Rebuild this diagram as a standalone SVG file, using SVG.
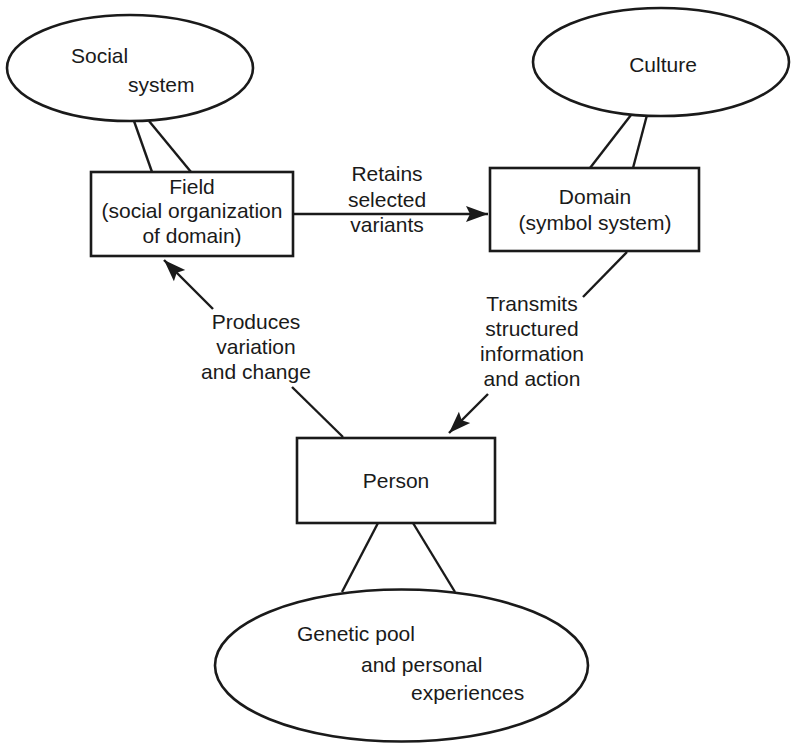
<svg xmlns="http://www.w3.org/2000/svg" width="791" height="743" viewBox="0 0 791 743">
  <defs>
    <style>
      .shape { fill: #ffffff; stroke: #1a1a1a; stroke-width: 2.6; }
      .link { fill: none; stroke: #1a1a1a; stroke-width: 2.4; }
      .label { font-family: "Liberation Sans", Arial, Helvetica, sans-serif; font-size: 21px; fill: #1a1a1a; }
      .mid { text-anchor: middle; }
    </style>
    <marker id="arrow" markerUnits="userSpaceOnUse" markerWidth="24" markerHeight="18" viewBox="0 0 24 18" refX="22" refY="9" orient="auto">
      <path d="M0,1 L22,9 L0,17 L4,9 Z" fill="#1a1a1a"/>
    </marker>
  </defs>

  <rect width="791" height="743" fill="#ffffff"/>

  <g id="connectors">
    <!-- ties between each box and its surrounding context -->
    <line class="link" x1="134" y1="121" x2="152" y2="172"/>
    <line class="link" x1="149" y1="121" x2="191" y2="172"/>
    <line class="link" x1="631" y1="115" x2="590" y2="168"/>
    <line class="link" x1="647" y1="115" x2="633" y2="168"/>
    <line class="link" x1="378" y1="523" x2="342" y2="592"/>
    <line class="link" x1="413" y1="523" x2="455" y2="592"/>
    <!-- field to domain -->
    <line class="link" x1="293" y1="214" x2="488" y2="214" marker-end="url(#arrow)"/>
    <!-- person to field, broken around its label -->
    <line class="link" x1="343" y1="437" x2="292" y2="387"/>
    <line class="link" x1="213" y1="309" x2="164" y2="260" marker-end="url(#arrow)"/>
    <!-- domain to person, broken around its label -->
    <line class="link" x1="627" y1="252" x2="583" y2="297"/>
    <line class="link" x1="488" y1="394" x2="449" y2="433" marker-end="url(#arrow)"/>
  </g>

  <g id="social-system">
    <ellipse class="shape" cx="130" cy="68" rx="123" ry="53"/>
    <text class="label" x="71" y="63">Social</text>
    <text class="label" x="128" y="92">system</text>
  </g>

  <g id="culture">
    <ellipse class="shape" cx="661" cy="62" rx="128" ry="54"/>
    <text class="label mid" x="663" y="72">Culture</text>
  </g>

  <g id="field">
    <rect class="shape" x="91" y="172" width="202" height="84"/>
    <text class="label mid" x="192" y="194">Field</text>
    <text class="label mid" x="192" y="218">(social organization</text>
    <text class="label mid" x="192" y="243">of domain)</text>
  </g>

  <g id="domain">
    <rect class="shape" x="490" y="168" width="209" height="83"/>
    <text class="label mid" x="595" y="204">Domain</text>
    <text class="label mid" x="595" y="230">(symbol system)</text>
  </g>

  <g id="person">
    <rect class="shape" x="297" y="438" width="198" height="85"/>
    <text class="label mid" x="396" y="488">Person</text>
  </g>

  <g id="genetic-pool">
    <ellipse class="shape" cx="401.5" cy="665.5" rx="186.5" ry="76"/>
    <text class="label" x="297" y="641">Genetic pool</text>
    <text class="label" x="361" y="672">and personal</text>
    <text class="label" x="411" y="700">experiences</text>
  </g>

  <g id="labels">
    <text class="label mid" x="387" y="181">Retains</text>
    <text class="label mid" x="387" y="207">selected</text>
    <text class="label mid" x="387" y="232">variants</text>

    <text class="label mid" x="256" y="329">Produces</text>
    <text class="label mid" x="256" y="354">variation</text>
    <text class="label mid" x="256" y="379">and change</text>

    <text class="label mid" x="532" y="311">Transmits</text>
    <text class="label mid" x="532" y="336">structured</text>
    <text class="label mid" x="532" y="361">information</text>
    <text class="label mid" x="532" y="386">and action</text>
  </g>
</svg>
